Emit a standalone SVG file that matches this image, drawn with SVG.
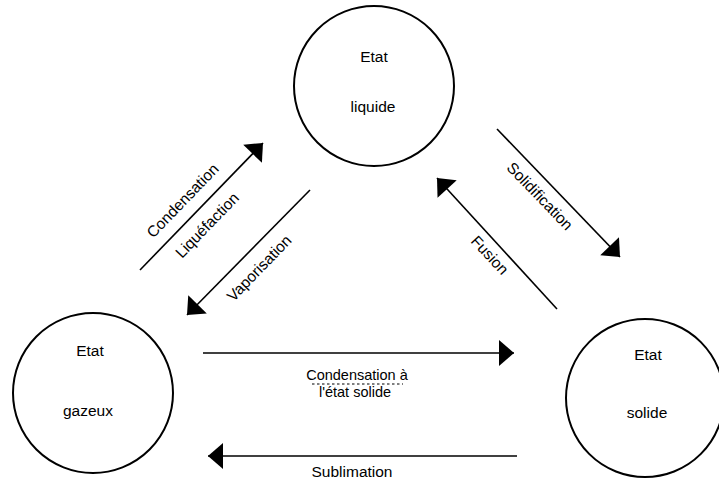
<svg xmlns="http://www.w3.org/2000/svg" width="719" height="483" viewBox="0 0 719 483">
<style>
.node{fill:none;stroke:#000;stroke-width:2}
.lbl{font-family:"Liberation Sans",Arial,sans-serif;font-size:15.5px;fill:#000;text-anchor:middle}
.sm{font-size:14.5px}
.edge{stroke:#000;stroke-width:1.6;fill:none}
</style>
<defs>
<marker id="ah" markerUnits="userSpaceOnUse" markerWidth="30" markerHeight="30" viewBox="-16 -15 18 30" refX="0" refY="0" orient="auto">
<path d="M0,0 L-15,-13 L-15,13 Z" fill="#000"/>
</marker>
</defs>
<rect width="719" height="483" fill="#fff"/>
<g id="liquide">
<circle class="node" cx="374" cy="86" r="80"/>
<text class="lbl" x="374" y="62">Etat</text>
<text class="lbl" x="373" y="112">liquide</text>
</g>
<g id="gazeux">
<circle class="node" cx="93" cy="393" r="80"/>
<text class="lbl" x="90" y="356">Etat</text>
<text class="lbl" x="88" y="416">gazeux</text>
</g>
<g id="solide">
<circle class="node" cx="645" cy="398" r="79"/>
<text class="lbl" x="648" y="360">Etat</text>
<text class="lbl" x="647" y="418">solide</text>
</g>
<g id="connectors">
<line class="edge" x1="140" y1="270" x2="263" y2="143" marker-end="url(#ah)"/>
<line class="edge" x1="310" y1="190" x2="187" y2="315" marker-end="url(#ah)"/>
<line class="edge" x1="497" y1="129" x2="620" y2="257" marker-end="url(#ah)"/>
<line class="edge" x1="557" y1="309" x2="437" y2="178" marker-end="url(#ah)"/>
<line class="edge" x1="203" y1="353" x2="514" y2="353" marker-end="url(#ah)"/>
<line class="edge" x1="517" y1="456" x2="208" y2="456" marker-end="url(#ah)"/>
<line x1="312" y1="384" x2="403" y2="384" stroke="#000" stroke-width="1.2" stroke-dasharray="2.5,2.5"/>
<text class="lbl" transform="translate(182.5,200.5) rotate(-46)" dominant-baseline="central">Condensation</text>
<text class="lbl" transform="translate(207,225) rotate(-46)" dominant-baseline="central">Liquéfaction</text>
<text class="lbl" transform="translate(259,268) rotate(-46)" dominant-baseline="central">Vaporisation</text>
<text class="lbl" transform="translate(540,196) rotate(46)" dominant-baseline="central">Solidification</text>
<text class="lbl" transform="translate(490,255) rotate(47)" dominant-baseline="central">Fusion</text>
<text class="lbl sm" x="357" y="380">Condensation à</text>
<text class="lbl sm" x="355" y="397">l'état solide</text>
<text class="lbl" x="352" y="477">Sublimation</text>
</g>
</svg>
